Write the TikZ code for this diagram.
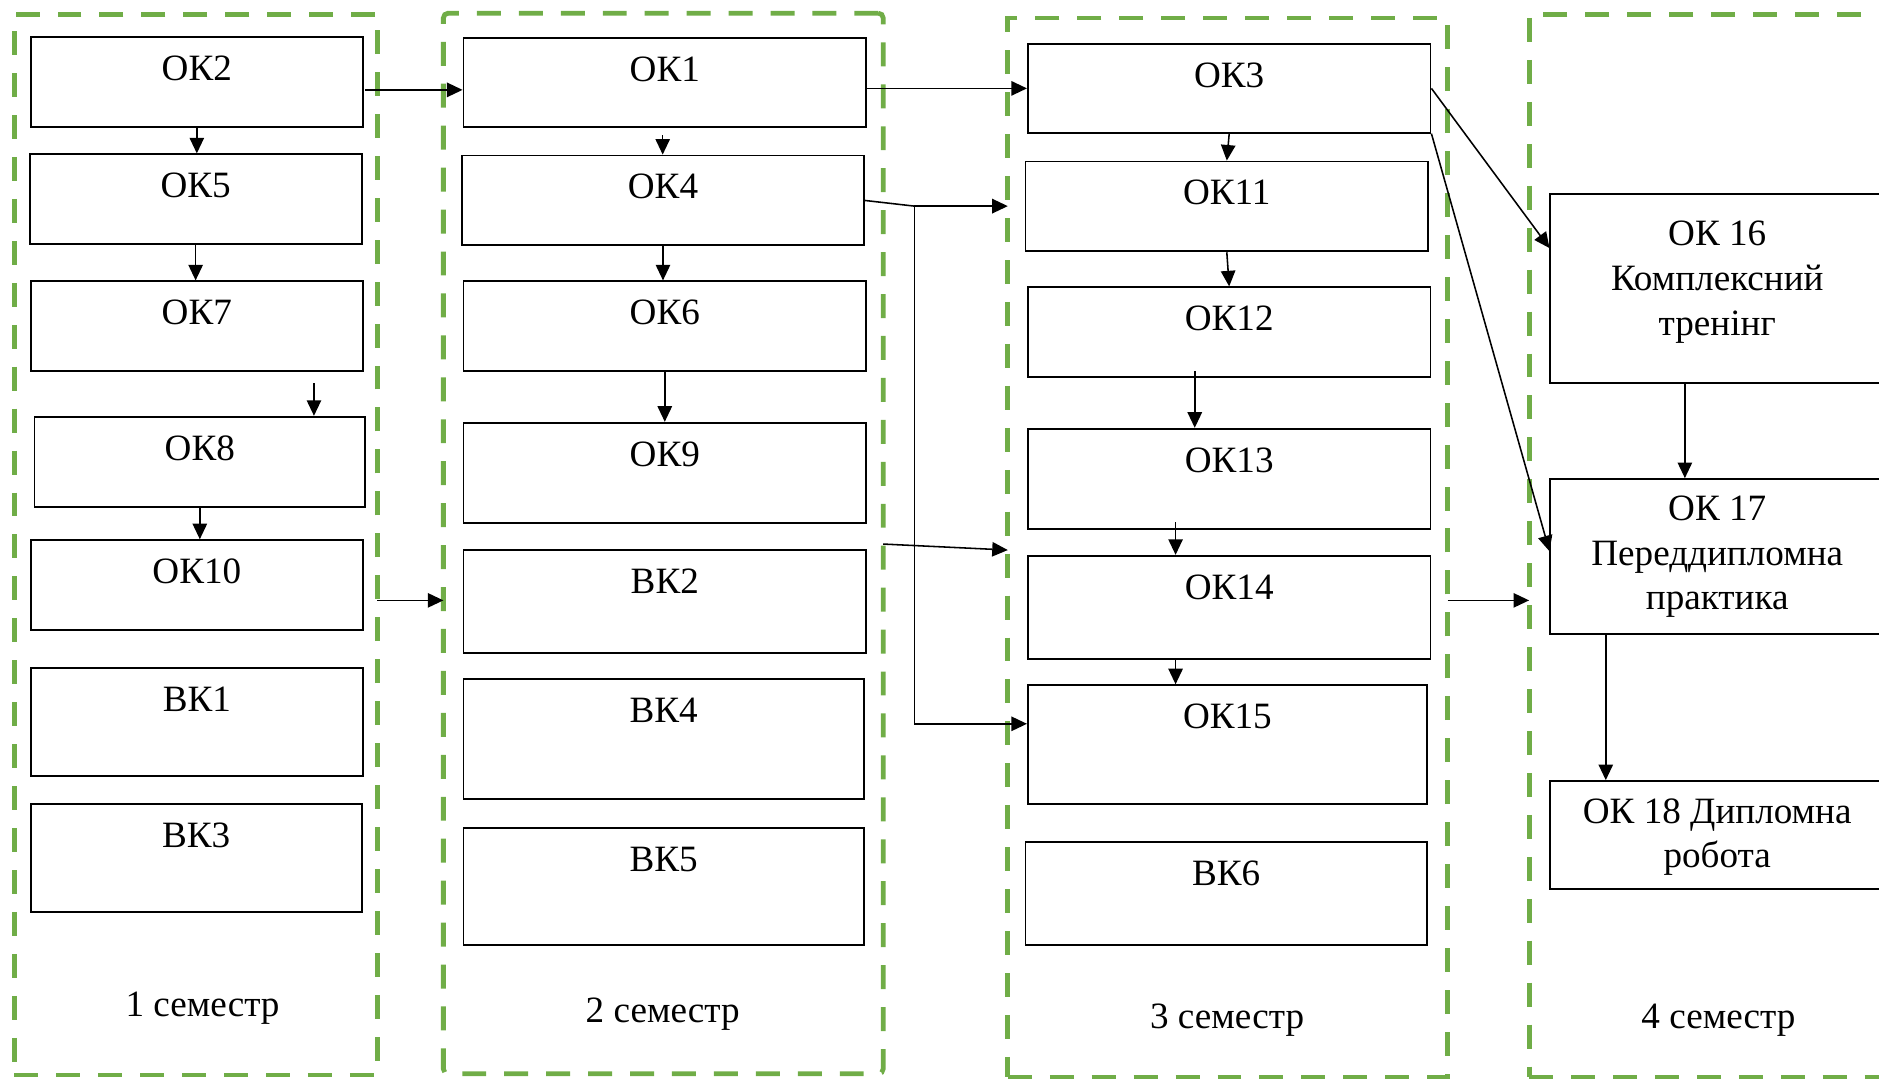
\documentclass[tikz,border=0pt]{standalone}
\usepackage{fontspec}
\setmainfont{Liberation Serif}
\usetikzlibrary{arrows.meta,calc}
\definecolor{semgreen}{RGB}{112,173,71}
\newcommand\mybox[6]{%
  \node[box, anchor=north west, minimum width={#4-#2}, minimum height={#5-#3}] (#1) at (#2,#3) {};
  \node[lbl, anchor=base] (#1t) at ($(#1.north)+(0,37)$) {#6};}
\begin{document}
\begin{tikzpicture}[x=1pt,y=-1pt,
  box/.style={draw, line width=1.5pt, inner sep=0pt},
  lbl/.style={inner sep=0pt, font=\fontsize{31}{37.5}\selectfont},
  sem/.style={draw=semgreen, line width=4pt, dash pattern=on 20pt off 15pt, outer sep=0pt, inner sep=0pt},
  arr/.style={-{Triangle[length=13pt,width=12pt]}, line width=1.3pt},
  conn/.style={line width=1.3pt}]
\useasboundingbox (0,0) rectangle (1568,900);
\clip (0,0) rectangle (1568,900);
% semesters
\node[sem, anchor=north west, minimum width=303, minimum height=885] (s1) at (12,12) {};
\node[sem, rounded corners=4pt, anchor=north west, minimum width=367, minimum height=885] (s2) at (370,11) {};
\node[sem, anchor=north west, minimum width=367, minimum height=884] (s3) at (841,15) {};
\node[sem, anchor=north west, minimum width=360, minimum height=887] (s4) at (1276,12) {};
\node[lbl, anchor=base] (l1) at (169,848) {1 семестр};
\node[lbl, anchor=base] (l2) at (553,853) {2 семестр};
\node[lbl, anchor=base] (l3) at (1024,858) {3 семестр};
\node[lbl, anchor=base] (l4) at (1434,858) {4 семестр};
% column 1
\mybox{ok2}{25}{30}{302}{105}{ОК2}
\mybox{ok5}{24}{128}{301}{203}{ОК5}
\mybox{ok7}{25}{234}{302}{309}{ОК7}
\mybox{ok8}{28}{347}{304}{422}{ОК8}
\mybox{ok10}{25}{450}{302}{525}{ОК10}
\mybox{vk1}{25}{557}{302}{647}{ВК1}
\mybox{vk3}{25}{670}{301}{760}{ВК3}
% column 2
\mybox{ok1}{386}{31}{722}{105}{ОК1}
\mybox{ok4}{385}{129}{720}{204}{ОК4}
\mybox{ok6}{386}{234}{722}{309}{ОК6}
\mybox{ok9}{386}{352}{722}{436}{ОК9}
\mybox{vk2}{386}{458}{722}{544}{ВК2}
\mybox{vk4}{386}{566}{720}{666}{ВК4}
\mybox{vk5}{386}{690}{720}{788}{ВК5}
% column 3
\mybox{ok3}{857}{36}{1193}{110}{ОК3}
\mybox{ok11}{855}{134}{1191}{209}{ОК11}
\mybox{ok12}{857}{239}{1193}{314}{ОК12}
\mybox{ok13}{857}{357}{1193}{441}{ОК13}
\mybox{ok14}{857}{463}{1193}{549}{ОК14}
\mybox{ok15}{857}{571}{1190}{670}{ОК15}
\mybox{vk6}{855}{702}{1190}{788}{ВК6}
% column 4
\node[box, anchor=north west, minimum width=280, minimum height=158] (ok16) at (1293,161) {};
\node[lbl, anchor=base] (ok16a) at (1433,204.5) {ОК 16};
\node[lbl, anchor=base] (ok16b) at (1433,242) {Комплексний};
\node[lbl, anchor=base] (ok16c) at (1433,280) {тренінг};
\node[box, anchor=north west, minimum width=280, minimum height=129] (ok17) at (1293,399) {};
\node[lbl, anchor=base] (ok17a) at (1433,434.5) {ОК 17};
\node[lbl, anchor=base] (ok17b) at (1433,472) {Переддипломна};
\node[lbl, anchor=base] (ok17c) at (1433,509) {практика};
\node[box, anchor=north west, minimum width=280, minimum height=90] (ok18) at (1293,651) {};
\node[lbl, anchor=base] (ok18a) at (1433,687.5) {ОК 18 Дипломна};
\node[lbl, anchor=base] (ok18b) at (1433,724) {робота};
% arrows column 1
\draw[arr] (ok2.south) -- (ok2.south |- ok5.north);
\draw[arr] (ok5.south) -- (ok5.south |- ok7.north);
\coordinate (c78) at (262,320);
\draw[arr] (c78) -- (c78 |- ok8.north);
\draw[arr] (ok8.south) -- (ok8.south |- ok10.north);
\coordinate (c21) at (305,75);
\draw[arr] (c21) -- (c21 -| ok1.west);
\coordinate (c12) at (315,501);
\draw[arr] (s1.east |- c12) -- (s2.west |- c12);
% arrows column 2
\coordinate (c14) at (553,113);
\draw[arr] (c14) -- (c14 |- ok4.north);
\draw[arr] (ok4.south) -- (ok4.south |- ok6.north);
\draw[arr] (ok6.south) -- (ok6.south |- ok9.north);
\draw[arr] (ok1.east |- ok3.west) -- (ok3.west);
\coordinate (j4) at (763,172);
\coordinate (j15) at (763,604);
\draw[conn] (ok4.east) -- (j4);
\draw[arr] (j4) -- (j4 -| s3.west);
\draw[arr] (j4) -- (j15) -- (j15 -| ok15.west);
\coordinate (c2a) at (737,454);
\coordinate (c3a) at (841,459);
\draw[arr] (s2.east |- c2a) -- (s3.west |- c3a);
% arrows column 3
\draw[arr] (ok3.south) -- (ok11.north);
\draw[arr] (ok11.south) -- (ok12.north);
\coordinate (c1213) at (997,310);
\draw[arr] (c1213) -- (c1213 |- ok13.north);
\coordinate (c1314) at (981,436);
\draw[arr] (c1314) -- (c1314 |- ok14.north);
\draw[arr] (ok14.south -| c1314) -- (c1314 |- ok15.north);
\coordinate (e16) at (1293,207);
\draw[arr] (ok3.east) -- (ok16.west |- e16);
\coordinate (e17) at (1293,460);
\draw[arr] (ok3.south east) -- (ok17.west |- e17);
\coordinate (c34) at (1208,501);
\draw[arr] (s3.east |- c34) -- (s4.west |- c34);
% arrows column 4
\coordinate (c1617) at (1406,319);
\draw[arr] (ok16.south -| c1617) -- (c1617 |- ok17.north);
\coordinate (c1718) at (1340,528);
\draw[arr] (ok17.south -| c1718) -- (c1718 |- ok18.north);
\end{tikzpicture}
\end{document}
